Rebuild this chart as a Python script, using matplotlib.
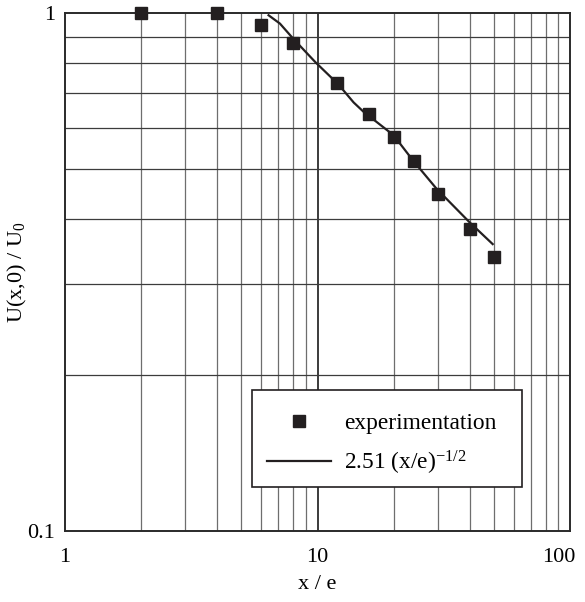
import matplotlib
matplotlib.use("Agg")
import matplotlib.pyplot as plt
import matplotlib.transforms as mtransforms
from matplotlib.patches import Rectangle
from matplotlib.ticker import FixedLocator, NullFormatter

# measured points
exp_x = [2, 4, 6, 8, 12, 16, 20, 24, 30, 40, 50]
exp_y = [1.0, 1.0, 0.95, 0.875, 0.731, 0.638, 0.576, 0.517, 0.448, 0.383, 0.338]

# fitted curve
fit_x = [6.4, 7.1, 8.0, 9.8, 12.1, 13.9, 15.2, 20.0, 23.9, 29.6, 39.9, 49.4]
fit_y = [0.99, 0.954, 0.893, 0.804, 0.728, 0.672, 0.645, 0.581, 0.519, 0.458, 0.395, 0.358]

plt.rcParams.update({
    'font.family': 'Liberation Serif',
    'font.size': 16,
    'mathtext.fontset': 'custom',
    'mathtext.rm': 'Liberation Serif',
    'mathtext.it': 'Liberation Serif:italic',
})

fig = plt.figure(figsize=(5.85, 6.02), dpi=100)
ax = fig.add_axes([65 / 585, 1 - 531 / 602, 505 / 585, 518 / 602])

ax.set_xscale("log")
ax.set_yscale("log")
ax.set_xlim(1, 100)
ax.set_ylim(0.1, 1)

# grid
for v in [2, 3, 4, 5, 6, 7, 8, 9, 20, 30, 40, 50, 60, 70, 80, 90]:
    ax.axvline(v, color="#6e6e6e", lw=0.9, zorder=1)
ax.axvline(10, color="#1a1a1a", lw=1.2, zorder=1)
for v in [0.2, 0.3, 0.4, 0.5, 0.6, 0.7, 0.8, 0.9]:
    ax.axhline(v, color="#3c3c3c", lw=0.9, zorder=1)

ax.plot(fit_x, fit_y, color="#231f20", lw=1.6, zorder=3,
        label=r"2.51 (x/e)$^{\mathregular{-1/2}}$")
ax.plot(exp_x, exp_y, linestyle="none", marker="s", markersize=8.5,
        color="#231f20", zorder=4, clip_on=False, label="experimentation")

ax.xaxis.set_major_locator(FixedLocator([1, 10, 100]))
ax.xaxis.set_minor_locator(FixedLocator([]))
ax.yaxis.set_major_locator(FixedLocator([0.1, 1]))
ax.yaxis.set_minor_locator(FixedLocator([]))
ax.set_xticklabels(["1", "10", "100"])
ax.set_yticklabels(["0.1", "1"])
ax.yaxis.set_minor_formatter(NullFormatter())
ax.tick_params(length=0, labelsize=16)
ax.tick_params(axis="x", pad=12)
ax.tick_params(axis="y", pad=7)

# keep "100" inside the figure
lab100 = ax.get_xticklabels()[-1]
lab100.set_transform(lab100.get_transform() +
                     mtransforms.ScaledTranslation(-8 / 72, 0, fig.dpi_scale_trans))

for s in ax.spines.values():
    s.set_color("#2a2a2a")
    s.set_linewidth(1.4)

ax.set_xlabel("x / e", labelpad=6)
ax.set_ylabel(r"U(x,0) / U$_{\mathregular{0}}$")
ax.yaxis.set_label_coords(-0.072, 0.5)

# legend box drawn separately so its padding matches the original
box = Rectangle((0.371, 0.0855), 0.533, 0.187, transform=ax.transAxes,
                facecolor="white", edgecolor="#231f20", lw=1.2, zorder=5)
ax.add_patch(box)

h, l = ax.get_legend_handles_labels()
leg = ax.legend(h[::-1], l[::-1], loc="upper left", bbox_to_anchor=(0.40, 0.228),
                frameon=False, handlelength=2.75, handletextpad=0.55,
                borderpad=0, labelspacing=0.62, borderaxespad=0, fontsize=16.8)
leg.set_zorder(6)

fig.savefig("out.png", dpi=100)
